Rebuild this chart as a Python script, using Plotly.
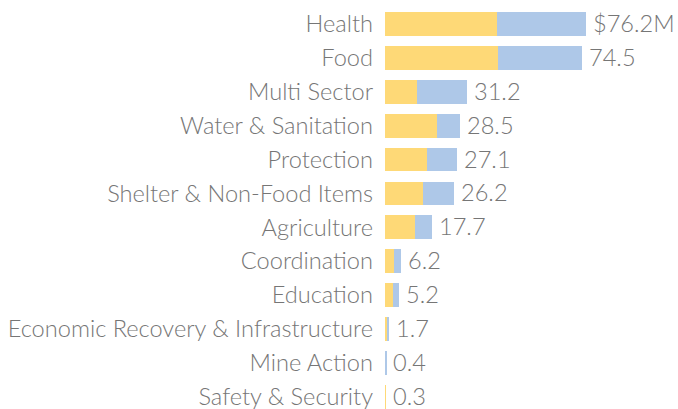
import plotly.graph_objects as go

categories = ["Health", "Food", "Multi Sector", "Water & Sanitation", "Protection",
              "Shelter & Non-Food Items", "Agriculture", "Coordination", "Education",
              "Economic Recovery & Infrastructure", "Mine Action", "Safety & Security"]
totals = [76.2, 74.5, 31.2, 28.5, 27.1, 26.2, 17.7, 6.2, 5.2, 1.7, 0.4, 0.3]
yellow_part = [42.5, 42.8, 12.0, 19.7, 15.9, 14.4, 11.4, 3.5, 2.9, 0.9, 0.0, 0.3]
blue_part = [round(t - y, 2) for t, y in zip(totals, yellow_part)]
total_labels = ["$76.2M", "74.5", "31.2", "28.5", "27.1", "26.2", "17.7", "6.2", "5.2", "1.7", "0.4", "0.3"]

YELLOW = "#FED977"
BLUE = "#AEC8E8"
TEXT = "#767676"
FONT = "Lato"

fig = go.Figure()
fig.add_trace(go.Bar(y=categories, x=yellow_part, orientation="h", marker_color=YELLOW,
                     marker_line_width=0, width=0.7, hoverinfo="skip"))
fig.add_trace(go.Bar(y=categories, x=blue_part, orientation="h", marker_color=BLUE,
                     marker_line_width=0, width=0.7, hoverinfo="skip"))

for c, t, lab in zip(categories, totals, total_labels):
    fig.add_annotation(x=t, y=c, text=lab, showarrow=False, xanchor="left", yanchor="middle",
                       xshift=5, yshift=1, font=dict(family=FONT, size=23.6, color=TEXT, weight=300))

fig.update_layout(
    barmode="stack",
    width=678, height=409,
    margin=dict(l=385, r=0, t=7, b=0),
    paper_bgcolor="white", plot_bgcolor="white",
    showlegend=False,
    xaxis=dict(range=[0, 111], visible=False, fixedrange=True),
    yaxis=dict(categoryorder="array", categoryarray=categories[::-1],
               range=[-0.36, 11.5],
               showgrid=False, zeroline=False, showline=False, ticks="",
               ticklabelstandoff=11,
               tickfont=dict(family=FONT, size=23.6, color=TEXT, weight=300)),
)

fig.write_html("out.html")
